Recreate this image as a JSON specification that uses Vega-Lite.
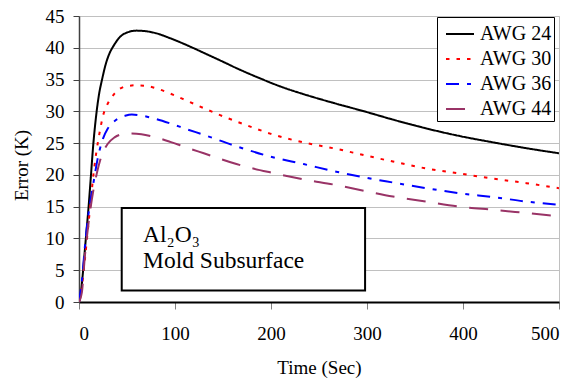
{
  "$schema": "https://vega.github.io/schema/vega-lite/v6.json",
  "width": 480,
  "height": 286,
  "autosize": {"type": "none"},
  "padding": {"left": 79, "top": 16, "right": 26, "bottom": 77},
  "background": "white",
  "config": {
    "font": "Liberation Serif",
    "view": {"stroke": "#c0c0c0", "strokeWidth": 1},
    "style": {
      "guide-label": {"font": "Liberation Serif", "fontSize": 19, "fill": "black"},
      "guide-title": {"font": "Liberation Serif", "fontSize": 19, "fontWeight": 400, "fill": "black"}
    },
    "axis": {
      "labelFont": "Liberation Serif", "labelFontSize": 19, "labelColor": "black",
      "titleFont": "Liberation Serif", "titleFontSize": 19, "titleFontWeight": 400, "titleColor": "black",
      "labelOverlap": false
    },
    "legend": {
      "labelFont": "Liberation Serif", "labelFontSize": 20, "labelColor": "black"
    },
    "text": {"font": "Liberation Serif"}
  },
  "encoding": {
    "x": {
      "field": "t", "type": "quantitative",
      "scale": {"domain": [0, 500], "nice": false},
      "axis": {
        "title": "Time (Sec)", "values": [0, 100, 200, 300, 400, 500],
        "grid": false, "domainColor": "black", "domainWidth": 2,
        "tickColor": "#808080", "tickSize": 7, "tickWidth": 1,
        "labelFont": "Liberation Serif", "labelFontSize": 19, "labelColor": "black", "labelPadding": 15,
        "titleFont": "Liberation Serif", "titleFontSize": 19, "titleFontWeight": 400, "titleColor": "black", "titlePadding": 15
      }
    },
    "y": {
      "field": "e", "type": "quantitative",
      "scale": {"domain": [0, 45], "nice": false},
      "axis": {
        "title": "Error (K)", "values": [0, 5, 10, 15, 20, 25, 30, 35, 40, 45],
        "grid": true, "gridColor": "#c0c0c0", "gridWidth": 1,
        "domainColor": "#404040", "domainWidth": 1.5,
        "tickColor": "#404040", "tickSize": 6, "tickWidth": 1,
        "labelFont": "Liberation Serif", "labelFontSize": 19, "labelColor": "black", "labelPadding": 9,
        "titleFont": "Liberation Serif", "titleFontSize": 19, "titleFontWeight": 400, "titleColor": "black", "titlePadding": 14, "titleY": 149
      }
    }
  },
  "layer": [
    {
      "data": {"values": [{"t": 44.5, "t2": 298, "e": 1.8, "e2": 14.8}]},
      "mark": {"type": "rect", "fill": "white", "stroke": "black", "strokeWidth": 2},
      "encoding": {
        "x2": {"field": "t2"},
        "y2": {"field": "e2"}
      }
    },
    {
      "data": {"values": [
        {"t": 66.7, "e": 9.5, "label": "Al₂O₃"},
        {"t": 66.7, "e": 5.35, "label": "Mold Subsurface"}
      ]},
      "mark": {"type": "text", "align": "left", "baseline": "alphabetic", "fontSize": 23.5, "font": "Liberation Serif", "color": "black"},
      "encoding": {
        "text": {"field": "label"}
      }
    },
    {
      "data": {"values": [
        {"s": "AWG 24", "t": 0, "e": 0}, {"s": "AWG 24", "t": 2, "e": 1.5}, {"s": "AWG 24", "t": 4, "e": 4.5}, {"s": "AWG 24", "t": 6, "e": 8}, {"s": "AWG 24", "t": 8, "e": 11.5}, {"s": "AWG 24", "t": 10, "e": 15}, {"s": "AWG 24", "t": 12, "e": 19}, {"s": "AWG 24", "t": 15, "e": 25}, {"s": "AWG 24", "t": 18, "e": 29.5}, {"s": "AWG 24", "t": 21, "e": 32.8}, {"s": "AWG 24", "t": 24, "e": 35}, {"s": "AWG 24", "t": 28, "e": 37.5}, {"s": "AWG 24", "t": 32, "e": 39.2}, {"s": "AWG 24", "t": 36, "e": 40.3}, {"s": "AWG 24", "t": 42, "e": 41.6}, {"s": "AWG 24", "t": 50, "e": 42.4}, {"s": "AWG 24", "t": 60, "e": 42.7}, {"s": "AWG 24", "t": 70, "e": 42.6}, {"s": "AWG 24", "t": 80, "e": 42.3}, {"s": "AWG 24", "t": 95, "e": 41.5}, {"s": "AWG 24", "t": 117, "e": 40.1}, {"s": "AWG 24", "t": 130, "e": 39.2}, {"s": "AWG 24", "t": 150, "e": 37.8}, {"s": "AWG 24", "t": 164, "e": 36.8}, {"s": "AWG 24", "t": 190, "e": 35.1}, {"s": "AWG 24", "t": 210, "e": 33.9}, {"s": "AWG 24", "t": 234, "e": 32.7}, {"s": "AWG 24", "t": 268, "e": 31.2}, {"s": "AWG 24", "t": 297, "e": 30}, {"s": "AWG 24", "t": 327, "e": 28.7}, {"s": "AWG 24", "t": 362, "e": 27.3}, {"s": "AWG 24", "t": 397, "e": 26.1}, {"s": "AWG 24", "t": 432, "e": 25.1}, {"s": "AWG 24", "t": 466, "e": 24.2}, {"s": "AWG 24", "t": 500, "e": 23.4},
        {"s": "AWG 30", "t": 0, "e": 0}, {"s": "AWG 30", "t": 3, "e": 2.5}, {"s": "AWG 30", "t": 6, "e": 6.5}, {"s": "AWG 30", "t": 9, "e": 11}, {"s": "AWG 30", "t": 12, "e": 15.5}, {"s": "AWG 30", "t": 15, "e": 20}, {"s": "AWG 30", "t": 18, "e": 23.5}, {"s": "AWG 30", "t": 22, "e": 27.1}, {"s": "AWG 30", "t": 25, "e": 29.3}, {"s": "AWG 30", "t": 29, "e": 30.9}, {"s": "AWG 30", "t": 33, "e": 32}, {"s": "AWG 30", "t": 37, "e": 32.8}, {"s": "AWG 30", "t": 42, "e": 33.5}, {"s": "AWG 30", "t": 48, "e": 33.9}, {"s": "AWG 30", "t": 60, "e": 34.1}, {"s": "AWG 30", "t": 70, "e": 34}, {"s": "AWG 30", "t": 81, "e": 33.6}, {"s": "AWG 30", "t": 95, "e": 32.8}, {"s": "AWG 30", "t": 112, "e": 31.7}, {"s": "AWG 30", "t": 130, "e": 30.5}, {"s": "AWG 30", "t": 147, "e": 29.4}, {"s": "AWG 30", "t": 164, "e": 28.4}, {"s": "AWG 30", "t": 182, "e": 27.4}, {"s": "AWG 30", "t": 199, "e": 26.5}, {"s": "AWG 30", "t": 234, "e": 25.1}, {"s": "AWG 30", "t": 268, "e": 24.1}, {"s": "AWG 30", "t": 297, "e": 23.1}, {"s": "AWG 30", "t": 327, "e": 22.1}, {"s": "AWG 30", "t": 362, "e": 21}, {"s": "AWG 30", "t": 397, "e": 20.2}, {"s": "AWG 30", "t": 432, "e": 19.4}, {"s": "AWG 30", "t": 466, "e": 18.7}, {"s": "AWG 30", "t": 500, "e": 17.9},
        {"s": "AWG 36", "t": 0, "e": 0}, {"s": "AWG 36", "t": 3.5, "e": 4}, {"s": "AWG 36", "t": 6, "e": 8.5}, {"s": "AWG 36", "t": 10, "e": 14}, {"s": "AWG 36", "t": 15, "e": 18.7}, {"s": "AWG 36", "t": 19.5, "e": 22.6}, {"s": "AWG 36", "t": 25, "e": 25.7}, {"s": "AWG 36", "t": 30, "e": 27.3}, {"s": "AWG 36", "t": 35, "e": 28.2}, {"s": "AWG 36", "t": 40, "e": 28.8}, {"s": "AWG 36", "t": 48, "e": 29.3}, {"s": "AWG 36", "t": 55, "e": 29.5}, {"s": "AWG 36", "t": 62, "e": 29.4}, {"s": "AWG 36", "t": 75, "e": 29}, {"s": "AWG 36", "t": 95, "e": 28.1}, {"s": "AWG 36", "t": 112, "e": 27.2}, {"s": "AWG 36", "t": 130, "e": 26.3}, {"s": "AWG 36", "t": 164, "e": 24.5}, {"s": "AWG 36", "t": 199, "e": 22.9}, {"s": "AWG 36", "t": 234, "e": 21.7}, {"s": "AWG 36", "t": 268, "e": 20.5}, {"s": "AWG 36", "t": 297, "e": 19.6}, {"s": "AWG 36", "t": 327, "e": 18.8}, {"s": "AWG 36", "t": 362, "e": 17.9}, {"s": "AWG 36", "t": 397, "e": 17.1}, {"s": "AWG 36", "t": 432, "e": 16.5}, {"s": "AWG 36", "t": 466, "e": 15.8}, {"s": "AWG 36", "t": 500, "e": 15.3},
        {"s": "AWG 44", "t": 0, "e": 0}, {"s": "AWG 44", "t": 3, "e": 1.5}, {"s": "AWG 44", "t": 6, "e": 7}, {"s": "AWG 44", "t": 10, "e": 12.5}, {"s": "AWG 44", "t": 15, "e": 17.6}, {"s": "AWG 44", "t": 18.5, "e": 20.2}, {"s": "AWG 44", "t": 23.5, "e": 23}, {"s": "AWG 44", "t": 30, "e": 24.9}, {"s": "AWG 44", "t": 37, "e": 25.9}, {"s": "AWG 44", "t": 45, "e": 26.4}, {"s": "AWG 44", "t": 55, "e": 26.5}, {"s": "AWG 44", "t": 65, "e": 26.4}, {"s": "AWG 44", "t": 80, "e": 25.9}, {"s": "AWG 44", "t": 95, "e": 25.2}, {"s": "AWG 44", "t": 112, "e": 24.3}, {"s": "AWG 44", "t": 130, "e": 23.4}, {"s": "AWG 44", "t": 164, "e": 21.7}, {"s": "AWG 44", "t": 199, "e": 20.4}, {"s": "AWG 44", "t": 234, "e": 19.3}, {"s": "AWG 44", "t": 268, "e": 18.4}, {"s": "AWG 44", "t": 297, "e": 17.5}, {"s": "AWG 44", "t": 327, "e": 16.6}, {"s": "AWG 44", "t": 362, "e": 15.8}, {"s": "AWG 44", "t": 397, "e": 15}, {"s": "AWG 44", "t": 432, "e": 14.5}, {"s": "AWG 44", "t": 466, "e": 14}, {"s": "AWG 44", "t": 500, "e": 13.5}
      ]},
      "mark": {"type": "line", "interpolate": "monotone", "clip": true},
      "encoding": {
        "color": {
          "field": "s", "type": "nominal",
          "scale": {"domain": ["AWG 24", "AWG 30", "AWG 36", "AWG 44"], "range": ["#000000", "#ff0000", "#0000ff", "#993366"]},
          "legend": {
            "title": null, "orient": "none", "legendX": 358, "legendY": 1,
            "fillColor": "white", "strokeColor": "black", "padding": 2, "symbolOffset": 6,
            "symbolType": "stroke", "symbolSize": 784, "labelOffset": 5, "rowPadding": -6,
            "labelFont": "Liberation Serif", "labelFontSize": 20, "labelColor": "black"
          }
        },
        "strokeDash": {
          "field": "s", "type": "nominal",
          "scale": {"domain": ["AWG 24", "AWG 30", "AWG 36", "AWG 44"], "range": [[1, 0], [3.5, 7], [13, 8, 4, 8], [19, 12.5]]},
          "legend": {
            "title": null, "orient": "none", "legendX": 358, "legendY": 1,
            "fillColor": "white", "strokeColor": "black", "padding": 2, "symbolOffset": 6,
            "symbolType": "stroke", "symbolSize": 784, "labelOffset": 5, "rowPadding": -6,
            "labelFont": "Liberation Serif", "labelFontSize": 20, "labelColor": "black"
          }
        },
        "strokeWidth": {
          "field": "s", "type": "nominal",
          "scale": {"domain": ["AWG 24", "AWG 30", "AWG 36", "AWG 44"], "range": [2, 2, 2, 4]},
          "legend": {
            "title": null, "orient": "none", "legendX": 358, "legendY": 1,
            "fillColor": "white", "strokeColor": "black", "padding": 2, "symbolOffset": 6,
            "symbolType": "stroke", "symbolSize": 784, "labelOffset": 5, "rowPadding": -6,
            "labelFont": "Liberation Serif", "labelFontSize": 20, "labelColor": "black"
          }
        }
      }
    }
  ]
}
